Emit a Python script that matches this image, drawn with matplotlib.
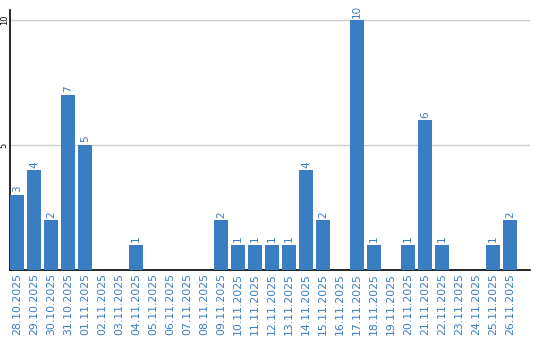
import matplotlib
matplotlib.use("Agg")
import matplotlib.pyplot as plt

dates = ["28.10.2025", "29.10.2025", "30.10.2025", "31.10.2025", "01.11.2025",
         "02.11.2025", "03.11.2025", "04.11.2025", "05.11.2025", "06.11.2025",
         "07.11.2025", "08.11.2025", "09.11.2025", "10.11.2025", "11.11.2025",
         "12.11.2025", "13.11.2025", "14.11.2025", "15.11.2025", "16.11.2025",
         "17.11.2025", "18.11.2025", "19.11.2025", "20.11.2025", "21.11.2025",
         "22.11.2025", "23.11.2025", "24.11.2025", "25.11.2025", "26.11.2025"]
counts = [3, 4, 2, 7, 5, 0, 0, 1, 0, 0, 0, 0, 2, 1, 1, 1, 1, 4, 2, 0,
          10, 1, 0, 1, 6, 1, 0, 0, 1, 2]

blue = "#3a7dc2"

fig = plt.figure(figsize=(5.4, 3.4), dpi=100)
ax = fig.add_axes([10 / 540, 1 - 270 / 340, 520 / 540, 260 / 340])

x = range(len(dates))
ax.bar(x, counts, width=0.82, color=blue, zorder=3)

# value labels, skip empty days
for i, v in enumerate(counts):
    if v > 0:
        ax.text(i, v + 0.1, str(v), rotation=90, ha="center", va="bottom",
                color=blue, fontsize=7.5)

ax.set_xlim(-0.41, 30.18)
ax.set_ylim(0, 10.4)
ax.set_yticks([5, 10])
ax.set_yticklabels(["5", "10"], rotation=90, va="center", fontsize=6)
ax.set_xticks(list(x))
ax.set_xticklabels(dates, rotation=90, color=blue, fontsize=7.8)
ax.tick_params(axis="both", length=0, pad=2)
ax.tick_params(axis="y", pad=1)

ax.grid(axis="y", color="#cccccc", linewidth=1, zorder=0)
ax.spines["top"].set_visible(False)
ax.spines["right"].set_visible(False)
ax.spines["left"].set_linewidth(1.2)
ax.spines["bottom"].set_linewidth(1.2)

fig.savefig("out.png", dpi=100)
